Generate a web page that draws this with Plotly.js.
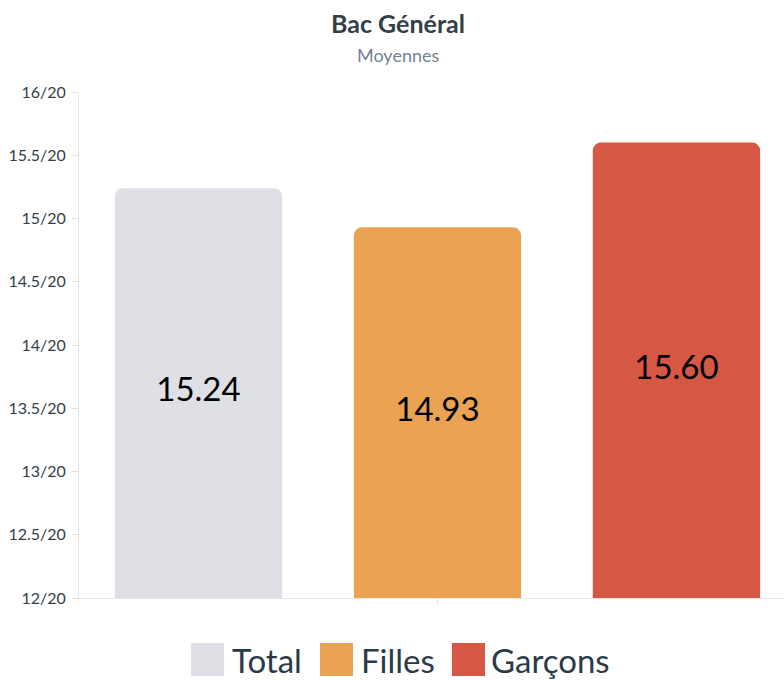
<!DOCTYPE html>
<html>
<head>
<meta charset="utf-8">
<script src="https://cdn.plot.ly/plotly-3.0.1.min.js"></script>
<style>html,body{margin:0;padding:0;background:#fff;}#chart{width:784px;height:680px;}</style>
</head>
<body>
<div id="chart"></div>
<script>
const seriesNames = ['Total', 'Filles', 'Garçons'];
const seriesValues = [15.24, 14.93, 15.60];
const seriesColors = ['#dfe0e6', '#e9a353', '#d75745'];
const yTickValues = [12, 12.5, 13, 13.5, 14, 14.5, 15, 15.5, 16];
const yTickLabels = ['12/20', '12.5/20', '13/20', '13.5/20', '14/20', '14.5/20', '15/20', '15.5/20', '16/20'];
const chartTitle = 'Bac Général';
const chartSubtitle = 'Moyennes';
const axisMin = 12;

const FONT = 'Lato, "Open Sans", sans-serif';

const traces = seriesNames.map((name, i) => ({
  type: 'bar',
  name: name,
  x: [i],
  y: [seriesValues[i]],
  width: 0.7,
  marker: {color: seriesColors[i], line: {width: 0}},
  hoverinfo: 'skip',
  showlegend: false
}));
// value labels centred in the visible part of each bar
traces.push({
  type: 'scatter',
  mode: 'text',
  x: seriesNames.map((n, i) => i),
  y: seriesValues.map(v => (v + axisMin) / 2),
  text: seriesValues.map(v => v.toFixed(2)),
  textposition: 'middle center',
  textfont: {family: FONT, size: 33, color: '#000000'},
  hoverinfo: 'skip',
  showlegend: false
});

// custom legend (paper coordinates of plot area: x 79..784, y 92..598)
const L = 79, R = 784, T = 92, B = 598;
const px2x = p => (p - L) / (R - L);
const py2y = p => (B - p) / (B - T);
const legendItems = [
  {sq: 191, tx: 230},
  {sq: 320, tx: 359},
  {sq: 452, tx: 489}
];
const shapes = [];
const annotations = [];
legendItems.forEach((it, i) => {
  shapes.push({
    type: 'rect', xref: 'paper', yref: 'paper',
    x0: px2x(it.sq), x1: px2x(it.sq + 33),
    y0: py2y(676), y1: py2y(643),
    fillcolor: seriesColors[i], line: {width: 0}
  });
  annotations.push({
    xref: 'paper', yref: 'paper',
    x: px2x(it.tx), y: py2y(660),
    xanchor: 'left', yanchor: 'middle',
    text: seriesNames[i], showarrow: false,
    font: {family: FONT, size: 33, color: '#2c3a47'}
  });
});
annotations.push({
  xref: 'paper', yref: 'paper', x: px2x(398), y: py2y(23),
  xanchor: 'center', yanchor: 'middle', showarrow: false,
  text: '<b>' + chartTitle + '</b>',
  font: {family: FONT, size: 25, color: '#333e48'}
});
annotations.push({
  xref: 'paper', yref: 'paper', x: px2x(398), y: py2y(55),
  xanchor: 'center', yanchor: 'middle', showarrow: false,
  text: chartSubtitle,
  font: {family: FONT, size: 18, color: '#768093'}
});

const layout = {
  width: 784, height: 680,
  margin: {l: L, r: 784 - R, t: T, b: 680 - B, pad: 0},
  paper_bgcolor: '#ffffff', plot_bgcolor: '#ffffff',
  showlegend: false,
  font: {family: FONT},
  xaxis: {
    range: [-0.5, 2.45],
    tickvals: [1], ticktext: [''],
    ticks: 'outside', ticklen: 6, tickcolor: '#e0e0e0', tickwidth: 1,
    showline: true, linecolor: '#e6e6e6', linewidth: 1,
    showgrid: false, zeroline: false, fixedrange: true
  },
  yaxis: {
    range: [axisMin, 16],
    tickvals: yTickValues, ticktext: yTickLabels,
    ticks: 'outside', ticklen: 6, tickcolor: '#e0e0e0', tickwidth: 1,
    ticklabelstandoff: 3,
    tickfont: {family: FONT, size: 16, color: '#333e48'},
    showline: true, linecolor: '#e6e6e6', linewidth: 1,
    showgrid: false, zeroline: false, fixedrange: true
  },
  barcornerradius: 8,
  shapes: shapes,
  annotations: annotations
};

Plotly.newPlot('chart', traces, layout, {displayModeBar: false, staticPlot: true});
</script>
</body>
</html>
